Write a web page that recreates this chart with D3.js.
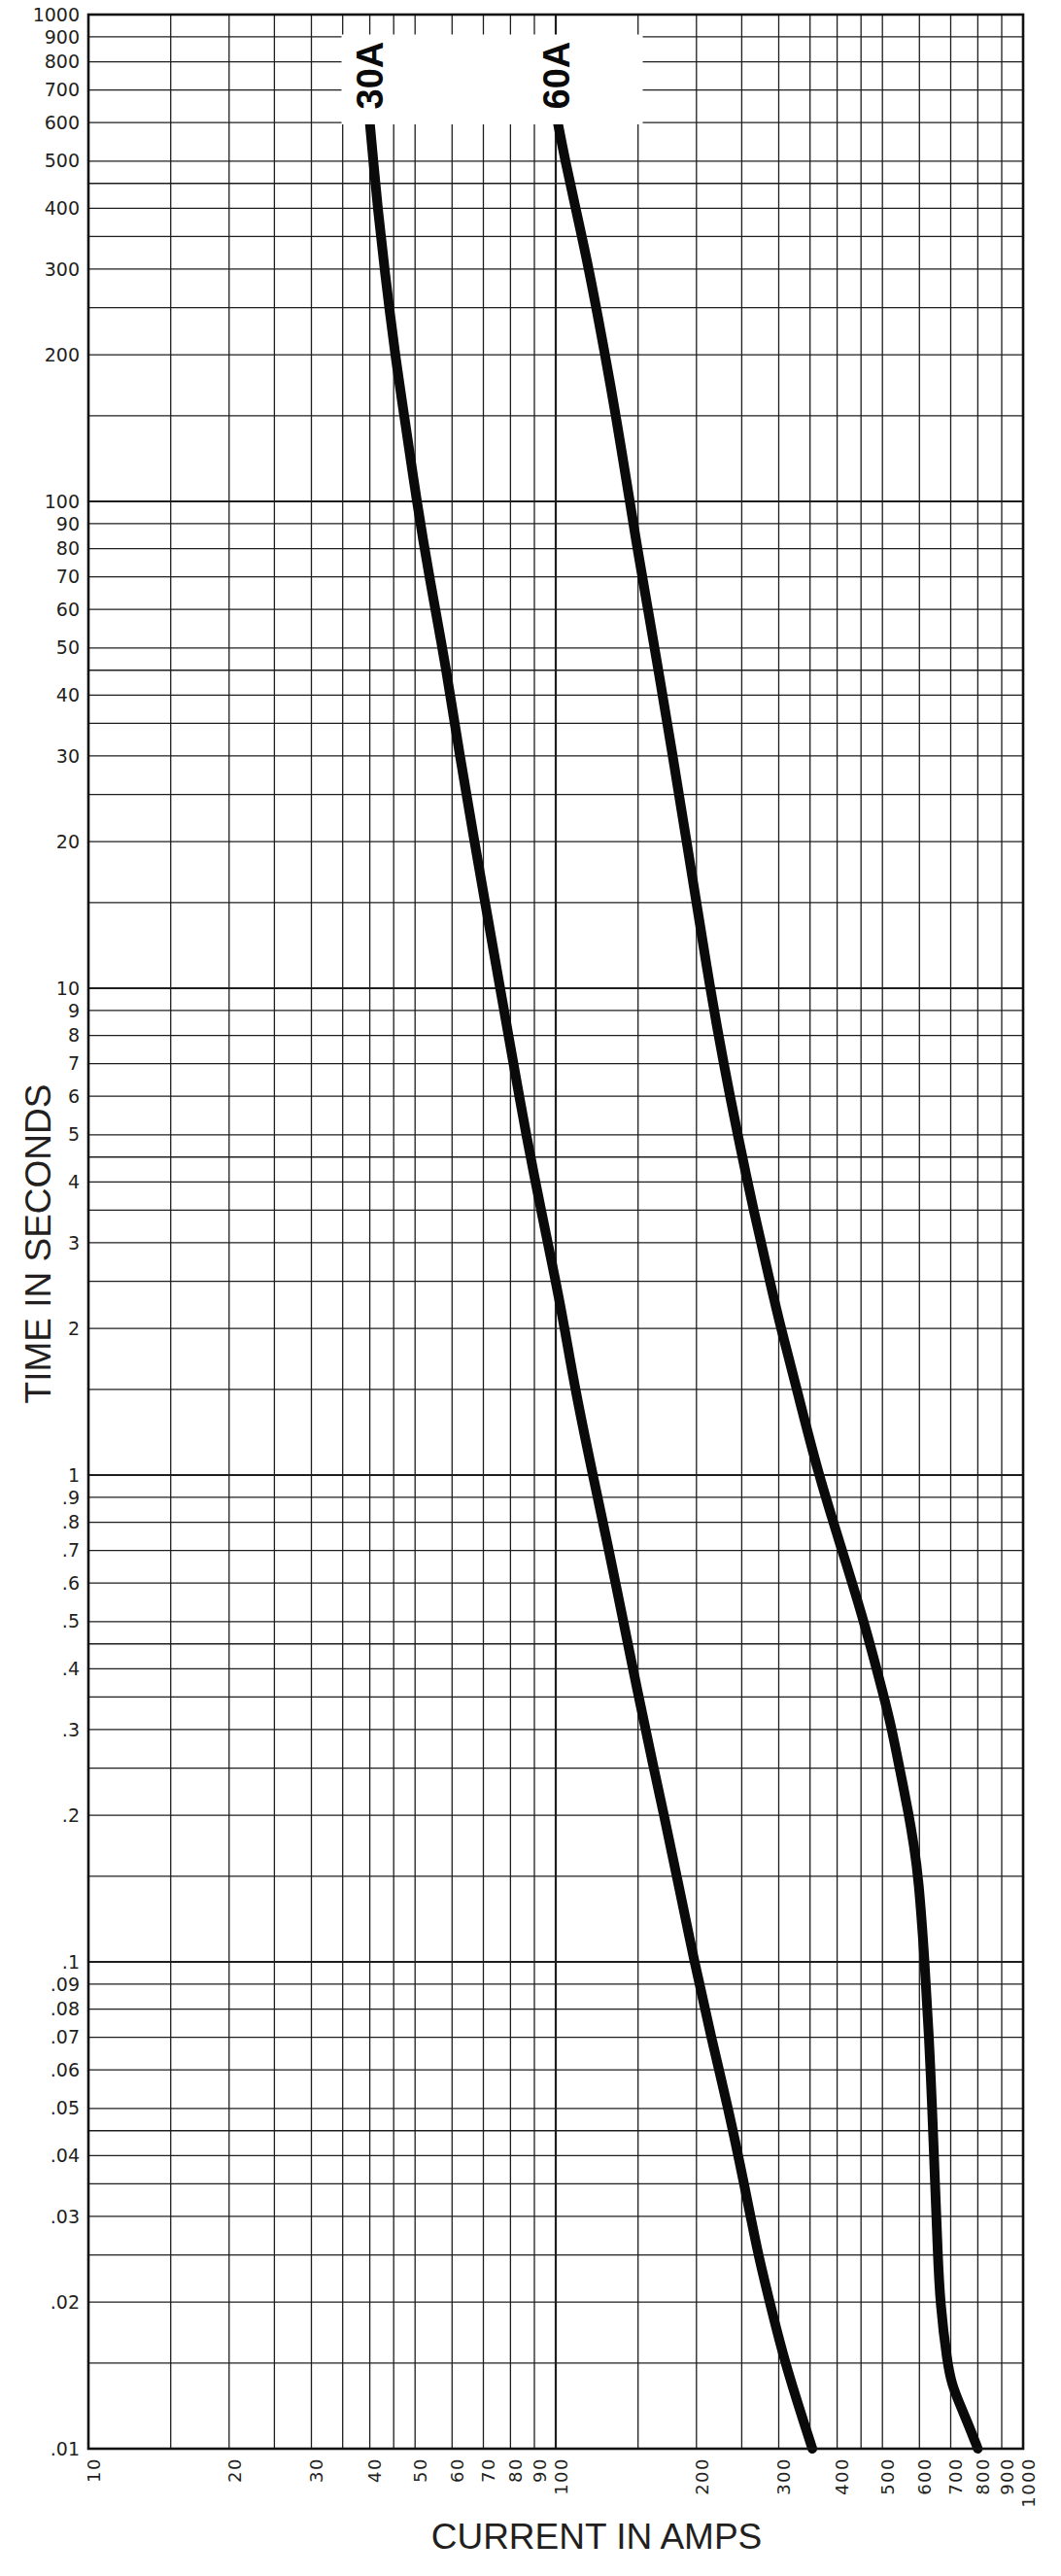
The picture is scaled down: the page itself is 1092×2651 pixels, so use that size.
<!DOCTYPE html>
<meta charset="utf-8">

<head>
    <title>Time-current curves</title>
</head>

<style>
    body {
        margin: 0;
        background: #fff;
    }
    .grid line {
        stroke: #1e1e1e;
        stroke-width: 1.3;
    }
    .grid line.decade {
        stroke-width: 2.2;
    }
    .frame {
        fill: none;
        stroke: #111;
        stroke-width: 2.6;
    }
    .yaxis text {
        font-family: "DejaVu Sans", sans-serif;
        font-size: 19px;
        fill: #231f20;
    }
    .xaxis text {
        font-family: "DejaVu Sans", sans-serif;
        font-size: 18px;
        letter-spacing: 1.5px;
        fill: #231f20;
    }
    .title {
        font-family: "Liberation Sans", Arial, sans-serif;
        font-size: 37px;
        fill: #231f20;
    }
    .curve {
        fill: none;
        stroke: #0a0a0a;
        stroke-width: 10;
        stroke-linecap: round;
        stroke-linejoin: round;
    }
    .rating {
        font-family: "Liberation Sans", Arial, sans-serif;
        font-weight: bold;
        font-size: 38px;
        fill: #0a0a0a;
    }
</style>

<body>
    <div id="content">
        <svg width="1092" height="2651">
        </svg>
    </div>

    <script src="https://cdnjs.cloudflare.com/ajax/libs/d3/7.8.5/d3.min.js"></script>
    <script>
        var width = 1092, height = 2651
        var margin = { top: 15, right: 39, bottom: 131, left: 91 }

        // 30A fuse: time in seconds and the current that melts it
        var time30 = [600, 500, 400, 300, 200, 150, 100, 70, 45, 30, 20, 15, 10, 7, 5, 3.5, 2.5, 2, 1.5, 1,
            0.7, 0.5, 0.35, 0.25, 0.2, 0.15, 0.1, 0.07, 0.05, 0.035, 0.025, 0.02, 0.015, 0.01]
        var amps30 = [40, 40.7, 41.6, 43, 45.3, 47.4, 50.4, 53.6, 58.4, 62.3, 67, 70.6, 76, 81.2, 86.4, 93, 100, 104.5, 110, 120,
            130, 139.5, 150.5, 162, 170.5, 181.5, 198, 215, 234, 253, 271, 287, 309, 354]

        // 60A fuse
        var time60 = [600, 500, 400, 300, 200, 150, 100, 80, 60, 45, 30, 20, 15, 10, 7, 5, 3.5, 2.5, 2, 1.5, 1,
            0.7, 0.5, 0.35, 0.3, 0.25, 0.2, 0.173, 0.15, 0.1, 0.07, 0.05, 0.035, 0.025, 0.02, 0.015, 0.0135, 0.0125, 0.0112, 0.01]
        var amps60 = [101, 104.8, 110.3, 117.8, 127.5, 134.5, 144, 149.5, 157.5, 165.8, 178, 190.5, 200, 213.9, 228.6, 245, 264.9, 287.2, 303.3, 328, 365,
            410, 457, 504, 524, 544, 570, 584, 597, 616, 629, 639, 648, 657, 664, 688, 705, 728, 764, 800]

        var ratings = ['30A', '60A']
        var ratingAmps = [40, 100]

        // labelled and unlabelled grid values
        var yTicks = [1000, 900, 800, 700, 600, 500, 400, 300, 200, 100, 90, 80, 70, 60, 50, 40, 30, 20,
            10, 9, 8, 7, 6, 5, 4, 3, 2, 1, 0.9, 0.8, 0.7, 0.6, 0.5, 0.4, 0.3, 0.2,
            0.1, 0.09, 0.08, 0.07, 0.06, 0.05, 0.04, 0.03, 0.02, 0.01]
        var yMinor = [450, 350, 250, 150, 45, 35, 25, 15, 4.5, 3.5, 2.5, 1.5, 0.45, 0.35, 0.25, 0.15,
            0.045, 0.035, 0.025, 0.015]
        var xTicks = [10, 20, 30, 40, 50, 60, 70, 80, 90, 100, 200, 300, 400, 500, 600, 700, 800, 900, 1000]
        var xMinor = [15, 25, 35, 45, 150, 250, 350, 450]
        var decades = [0.01, 0.1, 1, 10, 100, 1000]

        var x = d3.scaleLog().domain([10, 1000]).range([margin.left, width - margin.right])
        var y = d3.scaleLog().domain([1000, 0.01]).range([margin.top, height - margin.bottom])

        var svg = d3.select('svg')

        // grid
        var grid = svg.append('g').attr('class', 'grid')
        grid.selectAll('line.h')
            .data(yTicks.concat(yMinor))
            .enter().append('line')
            .attr('class', function (d) { return decades.indexOf(d) >= 0 ? 'h decade' : 'h' })
            .attr('x1', x.range()[0]).attr('x2', x.range()[1])
            .attr('y1', function (d) { return y(d) }).attr('y2', function (d) { return y(d) })
        grid.selectAll('line.v')
            .data(xTicks.concat(xMinor))
            .enter().append('line')
            .attr('class', function (d) { return d === 100 ? 'v decade' : 'v' })
            .attr('y1', y.range()[0]).attr('y2', y.range()[1])
            .attr('x1', function (d) { return x(d) }).attr('x2', function (d) { return x(d) })

        // curves
        var line = d3.line()
            .x(function (d) { return x(d[1]) })
            .y(function (d) { return y(d[0]) })
            .curve(d3.curveBasis)

        var series = [d3.zip(time30, amps30), d3.zip(time60, amps60)]
        svg.selectAll('path.curve')
            .data(series)
            .enter().append('path')
            .attr('class', 'curve')
            .attr('d', line)

        // white box behind the rating labels
        svg.append('rect')
            .attr('x', x(34.8))
            .attr('y', y(910))
            .attr('width', x(153.5) - x(34.8))
            .attr('height', y(595) - y(910))
            .attr('fill', '#fff')

        svg.selectAll('text.rating')
            .data(ratings)
            .enter().append('text')
            .attr('class', 'rating')
            .attr('transform', function (d, i) { return 'translate(' + x(ratingAmps[i]) + ',' + y(750) + ') rotate(-90)' })
            .attr('text-anchor', 'middle')
            .attr('dy', '0.36em')
            .text(function (d) { return d })

        // frame
        svg.append('rect')
            .attr('class', 'frame')
            .attr('x', x.range()[0]).attr('y', y.range()[0])
            .attr('width', x.range()[1] - x.range()[0])
            .attr('height', y.range()[1] - y.range()[0])

        // axes
        var fmt = function (d) { return d >= 1 ? String(d) : String(d).slice(1) }

        var yAxis = svg.append('g')
            .attr('class', 'yaxis')
            .attr('transform', 'translate(' + margin.left + ',0)')
            .call(d3.axisLeft(y).tickValues(yTicks).tickFormat(fmt).tickSize(0).tickPadding(9))
        yAxis.select('.domain').remove()
        yAxis.selectAll('text').attr('fill', null).attr('font-size', null).attr('font-family', null)

        var xAxis = svg.append('g')
            .attr('class', 'xaxis')
            .attr('transform', 'translate(0,' + y.range()[1] + ')')
            .call(d3.axisBottom(x).tickValues(xTicks).tickFormat(function (d) { return d }).tickSize(0))
        xAxis.select('.domain').remove()
        xAxis.selectAll('text')
            .attr('fill', null).attr('font-size', null).attr('font-family', null)
            .attr('transform', 'rotate(-90)')
            .attr('x', -9)
            .attr('y', 5)
            .attr('dy', '0.35em')
            .style('text-anchor', 'end')

        // titles
        svg.append('text')
            .attr('class', 'title')
            .attr('text-anchor', 'middle')
            .attr('x', 614)
            .attr('y', 2623)
            .text('CURRENT IN AMPS')

        svg.append('text')
            .attr('class', 'title')
            .attr('text-anchor', 'middle')
            .attr('transform', 'translate(52,1280) rotate(-90)')
            .text('TIME IN SECONDS')
    </script>
</body>

</html>
